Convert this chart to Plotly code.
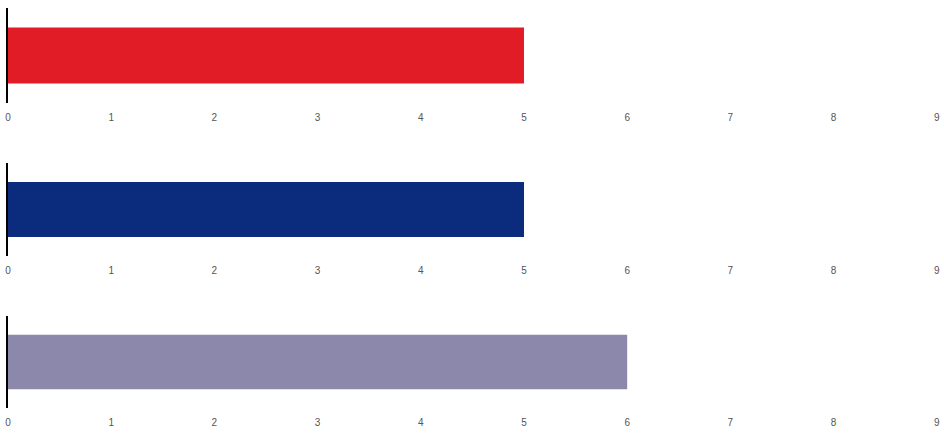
import plotly.graph_objects as go

categories = ["A", "B", "C"]
values = [5, 5, 6]
colors = ["#e21c26", "#0b2b7c", "#8b88ac"]
tick_vals = [0, 1, 2, 3, 4, 5, 6, 7, 8, 9]
tick_text = ["0", "1", "2", "3", "4", "5", "6", "7", "8", "9"]

W, H = 944, 436
# pixel extents of each panel (top, bottom)
panels = [(8, 103), (163, 256), (316, 408)]

fig = go.Figure()
layout = dict(
    width=W, height=H,
    margin=dict(l=8, r=0, t=0, b=0, autoexpand=False),
    paper_bgcolor="white", plot_bgcolor="white",
    showlegend=False,
    font=dict(family="Liberation Sans, Arial, sans-serif", size=10, color="#555555"),
)
for i, (cat, val, col) in enumerate(zip(categories, values, colors)):
    n = "" if i == 0 else str(i + 1)
    fig.add_trace(go.Bar(
        x=[val], y=[cat], orientation="h", width=0.59,
        marker=dict(color=col, line=dict(width=0)),
        xaxis="x" + n, yaxis="y" + n,
    ))
    top, bot = panels[i]
    layout["xaxis" + n] = dict(
        domain=[0, 1], range=[0, 9.07], anchor="y" + n,
        tickvals=tick_vals, ticktext=tick_text,
        showgrid=False, zeroline=False, showline=False,
        ticks="outside", ticklen=5, tickcolor="rgba(0,0,0,0)",
        tickfont=dict(size=10, color="#555555"),
        automargin=False,
    )
    layout["yaxis" + n] = dict(
        domain=[1 - bot / H, 1 - top / H], range=[-0.5, 0.5], anchor="x" + n,
        showticklabels=False, showgrid=False, zeroline=False,
        showline=True, linecolor="black", linewidth=2, ticks="",
        automargin=False,
    )

fig.update_layout(**layout)
fig.write_html(
    "out.html",
    config={"displayModeBar": False},
    post_script="document.body.style.margin='0';document.body.style.overflow='hidden';",
)
